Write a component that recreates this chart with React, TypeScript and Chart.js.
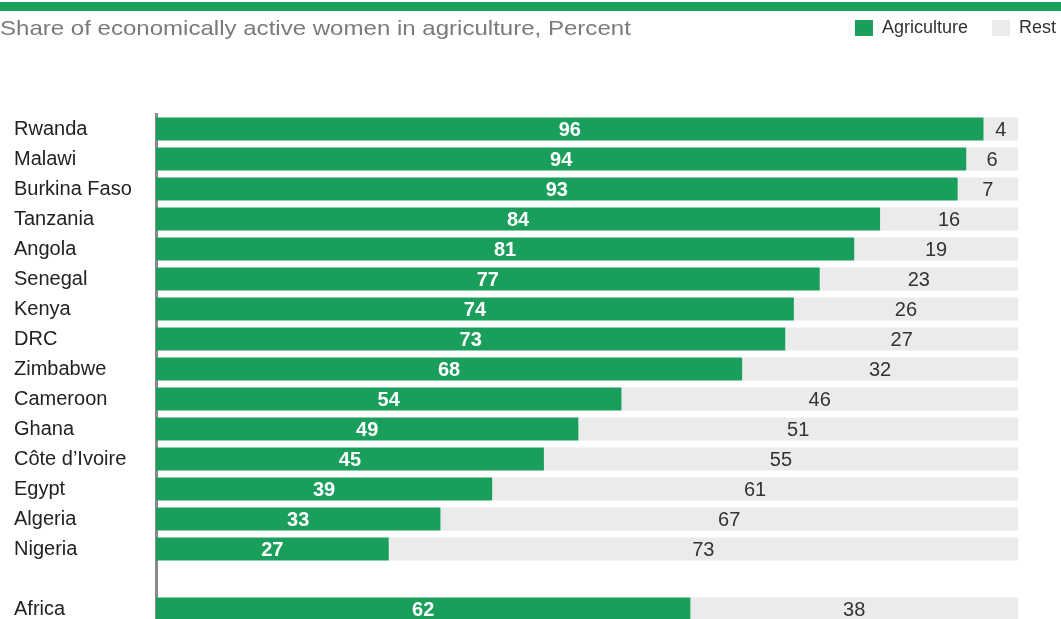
import React, { useEffect, useRef } from "react";
import { Chart, registerables } from "chart.js";

Chart.register(...registerables);

const categories = [
  "Rwanda", "Malawi", "Burkina Faso", "Tanzania", "Angola", "Senegal", "Kenya", "DRC",
  "Zimbabwe", "Cameroon", "Ghana", "Côte d’Ivoire", "Egypt", "Algeria", "Nigeria", "", "Africa",
];
const agriculture = [96, 94, 93, 84, 81, 77, 74, 73, 68, 54, 49, 45, 39, 33, 27, null, 62];
const rest = [4, 6, 7, 16, 19, 23, 26, 27, 32, 46, 51, 55, 61, 67, 73, null, 38];

const GREEN = "#1a9e5c";
const GREY = "#ebebec";
const FONT = "'Liberation Sans', Arial, sans-serif";

const labelPlugin = {
  id: "barLabels",
  afterDatasetsDraw(chart: any) {
    const ctx = chart.ctx;
    ctx.save();
    ctx.textAlign = "center";
    ctx.textBaseline = "middle";
    chart.data.datasets.forEach((ds: any, di: number) => {
      const meta = chart.getDatasetMeta(di);
      meta.data.forEach((bar: any, i: number) => {
        const v = ds.data[i];
        if (v == null) return;
        const { x, base, y } = bar.getProps(["x", "base", "y"], true);
        ctx.font = di === 0 ? `bold 20px ${FONT}` : `20px ${FONT}`;
        ctx.fillStyle = di === 0 ? "#ffffff" : "#333333";
        ctx.fillText(String(v), (x + base) / 2, y + 1);
      });
    });
    ctx.restore();
  },
};

export default function App() {
  const ref = useRef<HTMLCanvasElement>(null);
  useEffect(() => {
    document.body.style.margin = "0";
    document.body.style.overflow = "hidden";
    const chart = new Chart(ref.current!, {
      type: "bar",
      data: {
        labels: categories,
        datasets: [
          { label: "Agriculture", data: agriculture, backgroundColor: GREEN, barPercentage: 0.77, categoryPercentage: 1 },
          { label: "Rest", data: rest, backgroundColor: GREY, barPercentage: 0.77, categoryPercentage: 1 },
        ],
      },
      options: {
        indexAxis: "y",
        animation: false,
        responsive: false,
        layout: { padding: { left: 14, right: -19, top: -5, bottom: 16 } },
        plugins: {
          legend: {
            position: "top",
            align: "end",
            labels: {
              boxWidth: 18,
              boxHeight: 16,
              padding: 24,
              color: "#333333",
              font: { family: FONT, size: 18 },
            },
          },
          tooltip: { enabled: false },
          title: { display: false },
        },
        scales: {
          x: {
            stacked: true,
            min: 0,
            max: 100,
            position: "top",
            display: true,
            grid: { display: false, drawTicks: false },
            border: { display: false },
            ticks: { display: false },
            afterFit: (s: any) => { s.height = 67; },
          },
          y: {
            stacked: true,
            grid: { display: false, drawTicks: false },
            border: { display: true, color: "#8a8a8a", width: 3 },
            ticks: {
              crossAlign: "far",
              color: "#222222",
              padding: 0,
              font: { family: FONT, size: 20 },
              autoSkip: false,
            },
            afterFit: (s: any) => { s.width = 142; },
          },
          ySpacer: {
            type: "category",
            axis: "y",
            position: "right",
            display: true,
            grid: { display: false, drawTicks: false },
            border: { display: false },
            ticks: { display: false },
            afterFit: (s: any) => { s.width = 62; },
          },
        },
      },
      plugins: [labelPlugin],
    });
    return () => chart.destroy();
  }, []);
  return (
    <div style={{ position: "relative", width: 1061, height: 640, background: "#fff" }}>
      <div style={{ position: "absolute", left: 0, top: 2, width: 1061, height: 9, background: GREEN }} />
      <div
        style={{
          position: "absolute",
          left: 0,
          top: 16,
          fontFamily: FONT,
          fontSize: 21,
          color: "#7a7a7a",
          whiteSpace: "nowrap",
          transform: "scaleX(1.145)",
          transformOrigin: "left center",
        }}
      >
        Share of economically active women in agriculture, Percent
      </div>
      <canvas ref={ref} width={1061} height={640} style={{ display: "block" }} />
    </div>
  );
}
